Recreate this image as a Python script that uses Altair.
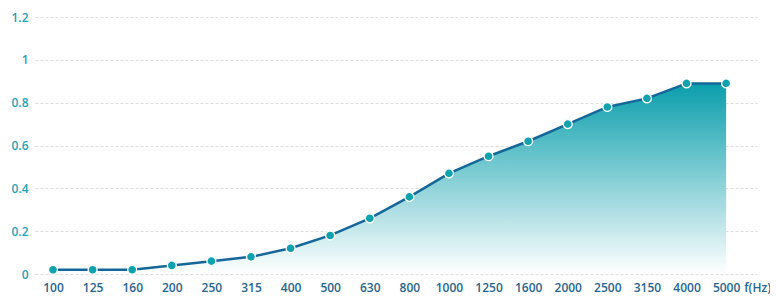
import altair as alt
import pandas as pd

categories = ["100", "125", "160", "200", "250", "315", "400", "500", "630", "800",
              "1000", "1250", "1600", "2000", "2500", "3150", "4000", "5000"]
values = [0.02, 0.02, 0.02, 0.04, 0.06, 0.08, 0.12, 0.18, 0.26, 0.36,
          0.47, 0.55, 0.62, 0.70, 0.78, 0.82, 0.89, 0.89]

df = pd.DataFrame({"idx": list(range(len(categories))), "cat": categories, "v": values})

labels_js = "[" + ",".join("'%s'" % c for c in categories) + "]"

W, H = 722, 257

x = alt.X("idx:Q",
          scale=alt.Scale(domain=[-0.455, 17.78], nice=False, zero=False),
          axis=alt.Axis(values=list(range(len(categories))),
                        labelExpr=labels_js + "[datum.value]",
                        grid=False, domain=False, ticks=False,
                        labelPadding=8, labelFont="Open Sans", labelFontWeight=600,
                        labelFontSize=12, labelColor="#27668f",
                        title="f(Hz)", titleFont="Open Sans", titleFontWeight=600,
                        titleFontSize=12, titleColor="#27668f",
                        titleX=W + 13.5, titleY=8, titleAlign="right", titleBaseline="top"))
y = alt.Y("v:Q",
          scale=alt.Scale(domain=[0, 1.2], nice=False),
          axis=alt.Axis(values=[0, 0.2, 0.4, 0.6, 0.8, 1.0, 1.2],
                        labelExpr="format(datum.value, '.2~f')",
                        grid=True, gridColor="#dedede", gridDash=[3, 2], gridWidth=1,
                        domain=False, ticks=False, labelPadding=7,
                        labelFont="Open Sans", labelFontWeight=600, labelFontSize=12,
                        labelColor="#1fa3b9", title=None))

base = alt.Chart(df)

area = base.mark_area(
    color=alt.Gradient(gradient="linear",
                       stops=[alt.GradientStop(color="#ffffff", offset=0),
                              alt.GradientStop(color="#0a9eac", offset=1)],
                       x1=1, x2=1, y1=1, y2=0)
).encode(x=x, y=y)

line = base.mark_line(color="#15679a", strokeWidth=2.5).encode(x=x, y=y)

pts = base.mark_point(filled=True, fill="#0ea2ae", stroke="#ffffff", strokeWidth=1.3,
                      size=80, opacity=1).encode(x=x, y=y)

chart = alt.layer(area, line, pts).properties(
    width=W, height=H,
    autosize=alt.AutoSizeParams(type="none"),
    padding={"left": 27, "top": 9, "right": 13, "bottom": 20},
).configure_view(stroke=None)

chart.save("out.html", embed_options={"renderer": "svg", "actions": False})
